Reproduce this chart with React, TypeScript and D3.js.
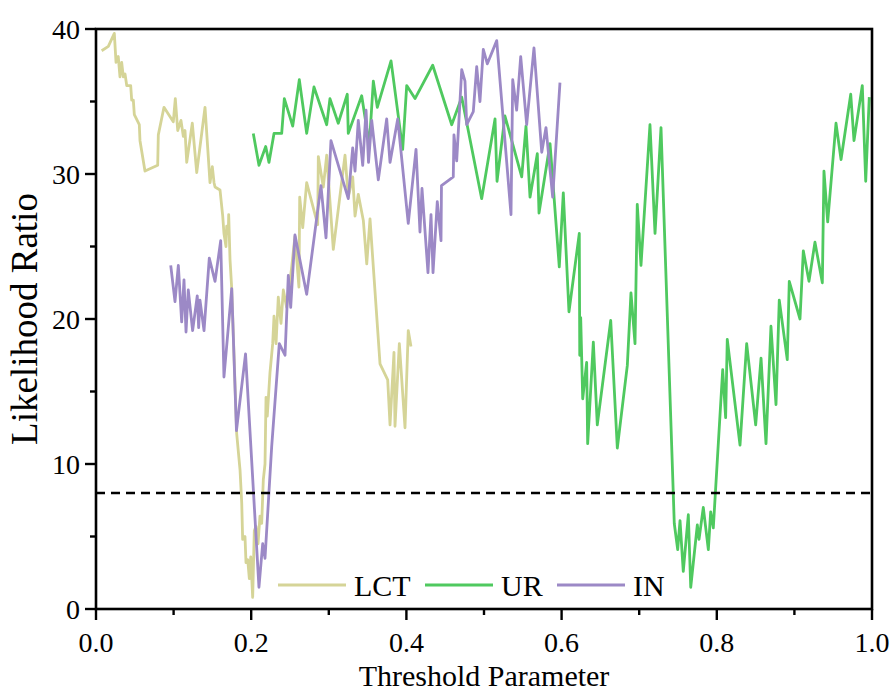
import React from "react";
import * as d3 from "d3";

// Threshold parameter (x) and likelihood ratio (y) for each method
const lctX = [0.0073, 0.0159, 0.0236, 0.0258, 0.0287, 0.0309, 0.0331, 0.0352, 0.0374, 0.0396, 0.0447, 0.046, 0.0481, 0.0494, 0.0558, 0.0567, 0.0631, 0.0795, 0.0803, 0.0876, 0.0996, 0.1022, 0.1053, 0.1095, 0.1125, 0.1147, 0.1169, 0.1241, 0.1298, 0.1405, 0.1469, 0.1499, 0.1521, 0.1534, 0.1598, 0.1633, 0.1649, 0.1675, 0.1684, 0.1705, 0.171, 0.1727, 0.1749, 0.1813, 0.1856, 0.1878, 0.189, 0.192, 0.1933, 0.1955, 0.1976, 0.1994, 0.2019, 0.204, 0.2062, 0.2088, 0.2113, 0.2135, 0.2156, 0.2178, 0.2191, 0.2207, 0.2242, 0.2277, 0.2294, 0.232, 0.2349, 0.2384, 0.2414, 0.2457, 0.2522, 0.2564, 0.2615, 0.2625, 0.2664, 0.2715, 0.2857, 0.2865, 0.2929, 0.2973, 0.3058, 0.3209, 0.3251, 0.3308, 0.3338, 0.338, 0.3445, 0.3489, 0.3531, 0.366, 0.3759, 0.3789, 0.384, 0.3853, 0.3909, 0.3982, 0.4024, 0.4059];
const lctY = [38.5, 38.8, 39.7, 37.7, 38.1, 36.7, 37.7, 36.7, 36.9, 36.1, 36.1, 35.1, 35.1, 34.1, 33.4, 32.3, 30.2, 30.6, 32.7, 34.6, 33.6, 35.2, 33.0, 33.7, 32.6, 33.0, 30.8, 33.5, 30.1, 34.6, 29.4, 30.5, 29.4, 29.1, 28.9, 27.1, 25.9, 25.0, 26.4, 25.9, 27.2, 24.1, 22.1, 12.1, 9.6, 7.3, 4.8, 5.0, 3.2, 3.4, 2.1, 3.6, 0.8, 5.4, 5.7, 4.5, 6.4, 5.9, 8.9, 10.0, 14.6, 13.3, 16.3, 18.3, 20.2, 18.3, 21.5, 19.7, 22.0, 20.8, 23.6, 25.7, 22.2, 28.4, 26.3, 29.4, 26.5, 31.2, 29.1, 31.3, 24.8, 31.3, 28.4, 29.8, 27.1, 28.6, 26.8, 23.8, 26.9, 16.9, 15.8, 12.7, 17.7, 12.6, 18.3, 12.5, 19.2, 18.1];

const urX = [0.2027, 0.21, 0.2187, 0.2229, 0.2294, 0.2393, 0.2427, 0.2535, 0.262, 0.2715, 0.2809, 0.2973, 0.3015, 0.3122, 0.3238, 0.3251, 0.3424, 0.3522, 0.3574, 0.3625, 0.3802, 0.3952, 0.4004, 0.4111, 0.4339, 0.4584, 0.4713, 0.497, 0.5142, 0.5168, 0.527, 0.5486, 0.5541, 0.5593, 0.5687, 0.5709, 0.5851, 0.597, 0.6022, 0.6095, 0.6228, 0.6234, 0.6246, 0.6272, 0.6323, 0.6336, 0.6409, 0.646, 0.6633, 0.6718, 0.6847, 0.6894, 0.6946, 0.6975, 0.7023, 0.7139, 0.7204, 0.7281, 0.7439, 0.7452, 0.7496, 0.7526, 0.7568, 0.7633, 0.7664, 0.7749, 0.7771, 0.7826, 0.7891, 0.7921, 0.7955, 0.8076, 0.8114, 0.8135, 0.8299, 0.8385, 0.8501, 0.857, 0.8634, 0.8698, 0.8763, 0.8805, 0.8908, 0.8934, 0.9072, 0.9115, 0.9188, 0.9265, 0.936, 0.9381, 0.9429, 0.9536, 0.9601, 0.9726, 0.9768, 0.9875, 0.9919, 0.9965];
const urY = [32.8, 30.6, 31.9, 30.8, 32.8, 32.8, 35.2, 33.3, 36.5, 32.8, 36.0, 33.4, 35.2, 33.5, 35.5, 32.8, 35.4, 32.0, 36.4, 34.6, 37.8, 31.7, 36.1, 35.2, 37.5, 33.4, 35.3, 28.3, 33.8, 29.5, 34.0, 29.8, 33.3, 28.4, 31.4, 27.3, 32.1, 23.6, 28.7, 20.5, 25.9, 17.5, 20.1, 14.5, 17.0, 11.4, 18.4, 12.7, 19.9, 11.1, 16.8, 21.8, 18.3, 27.9, 23.7, 33.4, 25.9, 33.2, 8.0, 5.9, 4.1, 6.1, 2.6, 6.5, 1.5, 5.8, 4.8, 7.0, 4.1, 6.7, 5.6, 16.5, 13.2, 18.6, 11.3, 18.3, 12.7, 17.3, 11.4, 19.5, 14.1, 21.3, 17.2, 22.6, 20.0, 24.7, 22.6, 25.3, 22.5, 30.2, 26.7, 33.5, 31.0, 35.5, 32.3, 36.1, 29.5, 35.3];

const inX = [0.0963, 0.1018, 0.1061, 0.1104, 0.1134, 0.116, 0.1189, 0.1245, 0.1305, 0.1323, 0.134, 0.1392, 0.146, 0.1534, 0.1607, 0.1649, 0.1749, 0.181, 0.1927, 0.21, 0.2148, 0.2178, 0.2264, 0.2362, 0.2436, 0.2478, 0.2509, 0.2564, 0.2715, 0.2899, 0.2964, 0.3028, 0.3251, 0.3308, 0.3338, 0.338, 0.3437, 0.348, 0.3512, 0.3553, 0.3638, 0.3746, 0.3789, 0.3888, 0.4024, 0.4124, 0.4175, 0.4201, 0.4278, 0.4317, 0.4343, 0.4398, 0.4446, 0.4452, 0.4604, 0.4613, 0.4648, 0.4713, 0.4755, 0.4777, 0.4862, 0.4906, 0.4948, 0.4991, 0.5043, 0.5164, 0.5348, 0.537, 0.5421, 0.5473, 0.555, 0.5644, 0.5744, 0.5799, 0.5885, 0.5979];
const inY = [23.7, 21.2, 23.7, 19.8, 22.7, 19.1, 22.0, 19.2, 21.6, 19.4, 21.3, 19.2, 24.2, 22.6, 25.4, 16.0, 22.1, 12.3, 17.6, 1.5, 4.5, 3.5, 11.2, 18.3, 17.5, 23.0, 20.8, 25.8, 21.7, 29.2, 25.6, 32.3, 28.3, 31.8, 30.2, 33.7, 30.6, 34.4, 30.8, 33.7, 29.6, 33.8, 30.8, 33.8, 26.6, 31.7, 26.0, 29.0, 23.2, 27.2, 23.2, 28.1, 25.4, 29.2, 29.8, 32.7, 30.9, 37.2, 36.4, 33.4, 34.3, 37.4, 35.0, 38.6, 37.6, 39.2, 27.2, 36.5, 34.4, 38.1, 33.4, 38.7, 31.5, 33.2, 28.4, 36.3];

const seriesNames = ["LCT", "UR", "IN"];
const seriesColors = ["#d5d497", "#4fc95f", "#9c89c6"];
const threshold = 8;

const xTicks = [0, 0.2, 0.4, 0.6, 0.8, 1.0];
const xMinor = [0.1, 0.3, 0.5, 0.7, 0.9];
const yTicks = [0, 10, 20, 30, 40];
const yMinor = [5, 15, 25, 35];

const W = 890;
const H = 693;
const L = 96, R = 872, T = 29, B = 609;
const FONT = "'Liberation Serif', 'Times New Roman', serif";

export default function App() {
  const x = d3.scaleLinear().domain([0, 1]).range([L, R]);
  const y = d3.scaleLinear().domain([0, 40]).range([B, T]);
  const line = d3.line<[number, number]>().x((d) => x(d[0])).y((d) => y(d[1]));

  const series = [
    lctX.map((v, i) => [v, lctY[i]] as [number, number]),
    urX.map((v, i) => [v, urY[i]] as [number, number]),
    inX.map((v, i) => [v, inY[i]] as [number, number]),
  ];

  const legendX = [278, 425, 557];

  return (
    <svg width={W} height={H} style={{ position: "absolute", left: 0, top: 0, background: "#fff" }}>
      <defs>
        <clipPath id="plot">
          <rect x={L} y={T} width={R - L} height={B - T} />
        </clipPath>
      </defs>

      <g clipPath="url(#plot)">
        {series.map((pts, i) => (
          <path key={seriesNames[i]} d={line(pts) || ""} fill="none" stroke={seriesColors[i]}
            strokeWidth={2.8} strokeLinejoin="round" />
        ))}
        <line x1={L} x2={R} y1={y(threshold)} y2={y(threshold)} stroke="#000" strokeWidth={2.6} strokeDasharray="9 6" />
      </g>

      {/* frame */}
      <rect x={L} y={T} width={R - L} height={B - T} fill="none" stroke="#000" strokeWidth={2.6} />

      {/* y ticks */}
      {yTicks.map((t) => (
        <g key={"y" + t}>
          <line x1={L - 11} x2={L} y1={y(t)} y2={y(t)} stroke="#000" strokeWidth={2.4} />
          <text x={L - 16} y={y(t)} dy="0.35em" textAnchor="end" fontFamily={FONT} fontSize={28}>{t}</text>
        </g>
      ))}
      {yMinor.map((t) => (
        <line key={"ym" + t} x1={L - 6} x2={L} y1={y(t)} y2={y(t)} stroke="#000" strokeWidth={2.4} />
      ))}

      {/* x ticks */}
      {xTicks.map((t) => (
        <g key={"x" + t}>
          <line x1={x(t)} x2={x(t)} y1={B} y2={B + 11} stroke="#000" strokeWidth={2.4} />
          <text x={x(t)} y={B + 43} textAnchor="middle" fontFamily={FONT} fontSize={28}>{t.toFixed(1)}</text>
        </g>
      ))}
      {xMinor.map((t) => (
        <line key={"xm" + t} x1={x(t)} x2={x(t)} y1={B} y2={B + 6} stroke="#000" strokeWidth={2.4} />
      ))}

      {/* axis titles */}
      <text x={(L + R) / 2} y={686} textAnchor="middle" fontFamily={FONT} fontSize={30}>Threshold Parameter</text>
      <text transform={`translate(37, ${(T + B) / 2}) rotate(-90)`} textAnchor="middle" fontFamily={FONT} fontSize={37}>Likelihood Ratio</text>

      {/* legend */}
      {seriesNames.map((n, i) => (
        <g key={"lg" + n}>
          <line x1={legendX[i]} x2={legendX[i] + 68} y1={585} y2={585} stroke={seriesColors[i]} strokeWidth={2.8} />
          <text x={legendX[i] + 76} y={596} fontFamily={FONT} fontSize={30}>{n}</text>
        </g>
      ))}
    </svg>
  );
}
